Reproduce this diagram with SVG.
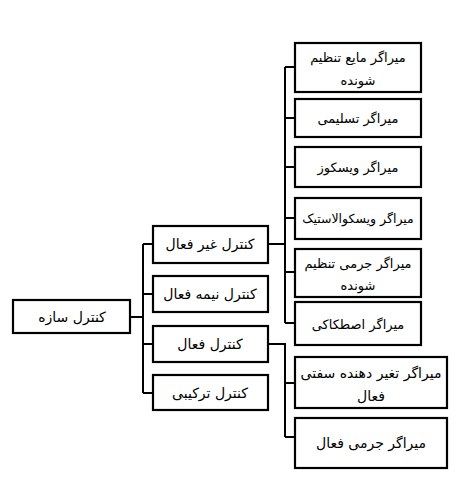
<svg xmlns="http://www.w3.org/2000/svg" width="458" height="480" viewBox="0 0 458 480">
<style>
.box{fill:#fff;stroke:#000;stroke-width:2.2}
.t{font-family:"DejaVu Sans",sans-serif;font-size:14px;fill:#000;text-anchor:middle}
.s{font-size:13px}
.xs{font-size:12.5px}
.c{fill:none;stroke:#000;stroke-width:2}
</style>
<rect width="458" height="480" fill="#fff"/>
<g id="connectors">
<path class="c" d="M130 317H143M143 244V393M143 244H153M143 294H153M143 344H153M143 393H153"/>
<path class="c" d="M268 244H285M285 67V323M285 67H295M285 118H295M285 167H295M285 218H295M285 272H295M285 323H295"/>
<path class="c" d="M268 344H285V437M285 383H295M285 437H295"/>
</g>
<g id="root"><rect class="box" x="13" y="300" width="117" height="33"/><text class="t" x="72" y="322">کنترل سازه</text></g>
<g id="passive"><rect class="box" x="153" y="226" width="115" height="37"/><text class="t" x="210" y="249">کنترل غیر فعال</text></g>
<g id="semiactive"><rect class="box" x="153" y="276" width="115" height="36"/><text class="t" x="210" y="299">کنترل نیمه فعال</text></g>
<g id="active"><rect class="box" x="153" y="326" width="115" height="36"/><text class="t" x="210" y="349">کنترل فعال</text></g>
<g id="hybrid"><rect class="box" x="153" y="375" width="115" height="35"/><text class="t" x="210" y="398">کنترل ترکیبی</text></g>
<g id="tld"><rect class="box" x="295" y="43" width="126" height="49"/><text class="t s" x="358" y="62">میراگر مایع تنظیم</text><text class="t s" x="358" y="85">شونده</text></g>
<g id="yield"><rect class="box" x="295" y="99" width="126" height="38"/><text class="t s" x="358" y="123">میراگر تسلیمی</text></g>
<g id="viscous"><rect class="box" x="295" y="147" width="126" height="40"/><text class="t s" x="358" y="172">میراگر ویسکوز</text></g>
<g id="viscoelastic"><rect class="box" x="295" y="198" width="126" height="41"/><text class="t xs" x="358" y="223">میراگر ویسکوالاستیک</text></g>
<g id="tmd"><rect class="box" x="295" y="249" width="126" height="48"/><text class="t s" x="358" y="268">میراگر جرمی تنظیم</text><text class="t s" x="358" y="290">شونده</text></g>
<g id="friction"><rect class="box" x="295" y="302" width="126" height="43"/><text class="t s" x="358" y="329">میراگر اصطکاکی</text></g>
<g id="avs"><rect class="box" x="295" y="357" width="152" height="51"/><text class="t" x="371" y="378">میراگر تغیر دهنده سفتی</text><text class="t" x="371" y="401">فعال</text></g>
<g id="amd"><rect class="box" x="295" y="418" width="152" height="50"/><text class="t" x="371" y="448">میراگر جرمی فعال</text></g>
</svg>
